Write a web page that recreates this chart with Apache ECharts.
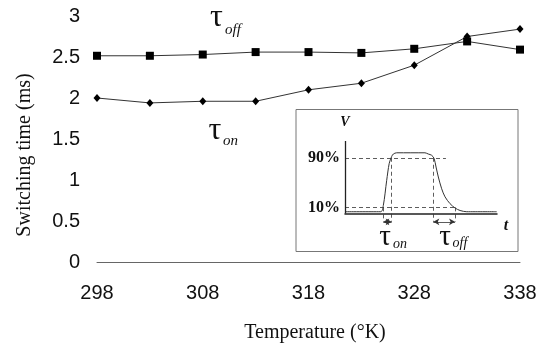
<!DOCTYPE html>
<html><head><meta charset="utf-8">
<script src="https://cdn.jsdelivr.net/npm/echarts/dist/echarts.min.js"></script>
<style>html,body{margin:0;padding:0;background:#fff}#c{width:545px;height:348px}</style>
</head><body><div id="c"></div>
<script>
// ---- main chart data ----
const temperatures = [298, 303, 308, 313, 318, 323, 328, 333, 338];
const tauOff = [2.515, 2.515, 2.53, 2.56, 2.56, 2.55, 2.60, 2.69, 2.59];
const tauOn  = [2.00, 1.94, 1.96, 1.96, 2.10, 2.18, 2.40, 2.75, 2.84];
const xTickValues = [298, 308, 318, 328, 338];
const yTickValues = [0, 0.5, 1, 1.5, 2, 2.5, 3];

// ---- inset schematic (arbitrary time units 0..100, V fraction) ----
const pulseT = [0, 23.5, 25.2, 27.4, 29.1, 30.7, 31.8, 34.0, 52.6, 54.8, 57.0, 58.6, 59.9, 61.4, 63.6, 65.8, 69.1, 72.4, 75.7, 80.1, 99.8];
const pulseV = [0.03, 0.03, 0.13, 0.53, 0.81, 0.92, 0.96, 0.98, 0.98, 0.96, 0.94, 0.89, 0.75, 0.59, 0.40, 0.27, 0.16, 0.09, 0.05, 0.03, 0.03];
const levelValues = [0.9, 0.1];
const levelEnds = [66.4, 73.0];
const onTimes = [25.2, 30.7];
const offTimes = [58.1, 72.4];
const arrowLevel = -0.133;
const insetVTop = 1.17;

const chart = echarts.init(document.getElementById('c'), null, {renderer: 'canvas'});
const sans = 'Liberation Sans, Arial, sans-serif';
const serif = 'Liberation Serif, Times New Roman, serif';
const ink = '#111';

const dashedLines = [
  [{coord: [0, levelValues[0]]}, {coord: [levelEnds[0], levelValues[0]]}],
  [{coord: [0, levelValues[1]]}, {coord: [levelEnds[1], levelValues[1]]}],
  [{coord: [onTimes[0], levelValues[1]]}, {coord: [onTimes[0], arrowLevel]}],
  [{coord: [onTimes[1], levelValues[0]]}, {coord: [onTimes[1], arrowLevel]}],
  [{coord: [offTimes[0], levelValues[0]]}, {coord: [offTimes[0], arrowLevel]}],
  [{coord: [offTimes[1], levelValues[1]]}, {coord: [offTimes[1], arrowLevel]}],
  [{coord: [0, 0], lineStyle: {type: 'solid', width: 1.3, color: '#222'}}, {coord: [0, insetVTop]}]
];
const arrowLines = [
  [{coord: [onTimes[0], arrowLevel]}, {coord: [onTimes[1], arrowLevel]}],
  [{coord: [offTimes[0], arrowLevel]}, {coord: [offTimes[1], arrowLevel]}]
];

function txt(x, y, text, size, opts) {
  return {
    type: 'text', x: x, y: y, z: 10,
    style: Object.assign({text: text, fontFamily: serif, fontSize: size, fill: ink, align: 'center', verticalAlign: 'middle'}, opts || {})
  };
}

chart.setOption({
  animation: false,
  backgroundColor: '#fff',
  grid: [
    {left: 97, right: 25, top: 16, bottom: 84},
    {left: 345, right: 48, top: 141, bottom: 122}
  ],
  xAxis: [
    {
      gridIndex: 0, type: 'value', min: xTickValues[0], max: xTickValues[xTickValues.length - 1], interval: 10,
      axisLine: {show: true, lineStyle: {color: '#666', width: 1}},
      axisTick: {show: false}, splitLine: {show: false},
      axisLabel: {margin: 21, fontFamily: sans, fontSize: 20, color: ink},
      name: 'Temperature (°K)', nameLocation: 'middle', nameGap: 61,
      nameTextStyle: {fontFamily: serif, fontSize: 20, color: ink, padding: [0, 0, 0, 13]}
    },
    {
      gridIndex: 1, type: 'value', min: 0, max: 100,
      axisLine: {show: true, onZero: true, lineStyle: {color: '#222', width: 1.5}},
      axisTick: {show: false}, splitLine: {show: false}, axisLabel: {show: false}
    }
  ],
  yAxis: [
    {
      gridIndex: 0, type: 'value', min: yTickValues[0], max: yTickValues[yTickValues.length - 1], interval: 0.5,
      axisLine: {show: false}, axisTick: {show: false}, splitLine: {show: false},
      axisLabel: {margin: 17, fontFamily: sans, fontSize: 20, color: ink},
      name: 'Switching time (ms)', nameLocation: 'middle', nameGap: 62,
      nameTextStyle: {fontFamily: serif, fontSize: 20, color: ink, padding: [0, 32, 0, 0]}
    },
    {
      gridIndex: 1, type: 'value', min: -0.2, max: insetVTop, interval: 0.1,
      axisLine: {show: false}, axisTick: {show: false}, splitLine: {show: false},
      axisLabel: {
        show: true, margin: 5, fontFamily: serif, fontWeight: 'bold', fontSize: 16, color: ink,
        formatter: function (v) {
          for (const lv of levelValues) { if (Math.abs(v - lv) < 1e-6) return Math.round(lv * 100) + '%'; }
          return '';
        }
      }
    }
  ],
  series: [
    {
      type: 'line', xAxisIndex: 0, yAxisIndex: 0, name: 'tau_off',
      data: temperatures.map((t, i) => [t, tauOff[i]]),
      symbol: 'rect', symbolSize: 8,
      lineStyle: {color: '#333', width: 1}, itemStyle: {color: '#000'}
    },
    {
      type: 'line', xAxisIndex: 0, yAxisIndex: 0, name: 'tau_on',
      data: temperatures.map((t, i) => [t, tauOn[i]]),
      symbol: 'diamond', symbolSize: [7, 8],
      lineStyle: {color: '#333', width: 1}, itemStyle: {color: '#000'}
    },
    {
      type: 'line', xAxisIndex: 1, yAxisIndex: 1, name: 'pulse',
      data: pulseT.map((t, i) => [t, pulseV[i]]),
      symbol: 'none', smooth: 0.3,
      lineStyle: {color: '#333', width: 1},
      markLine: {
        silent: true, symbol: ['none', 'none'], animation: false,
        label: {show: false},
        lineStyle: {type: [4, 3], color: '#333', width: 0.8},
        emphasis: {disabled: true},
        data: dashedLines
      }
    },
    {
      type: 'line', xAxisIndex: 1, yAxisIndex: 1, name: 'arrows', data: [],
      markLine: {
        silent: true, symbol: ['arrow', 'arrow'], symbolSize: [5, 6], animation: false,
        label: {show: false},
        lineStyle: {type: 'solid', color: '#333', width: 0.8},
        emphasis: {disabled: true},
        data: arrowLines
      }
    }
  ],
  graphic: [
    {type: 'rect', z: 0, shape: {x: 296, y: 109.5, width: 222, height: 142}, style: {fill: '#fff', stroke: '#777', lineWidth: 1}},
    txt(216.5, 18, 'τ', 32),
    txt(233, 30, 'off', 15, {fontStyle: 'italic'}),
    txt(215, 131, 'τ', 32),
    txt(230.5, 141, 'on', 15, {fontStyle: 'italic'}),
    txt(385, 237, 'τ', 29),
    txt(400, 244, 'on', 14, {fontStyle: 'italic'}),
    txt(445, 237, 'τ', 29),
    txt(460, 243, 'off', 14, {fontStyle: 'italic'}),
    txt(345, 122, 'V', 14, {fontStyle: 'italic', fontWeight: 'bold'}),
    txt(506, 226, 't', 16, {fontStyle: 'italic', fontWeight: 'bold'})
  ]
});
</script>
</body></html>
